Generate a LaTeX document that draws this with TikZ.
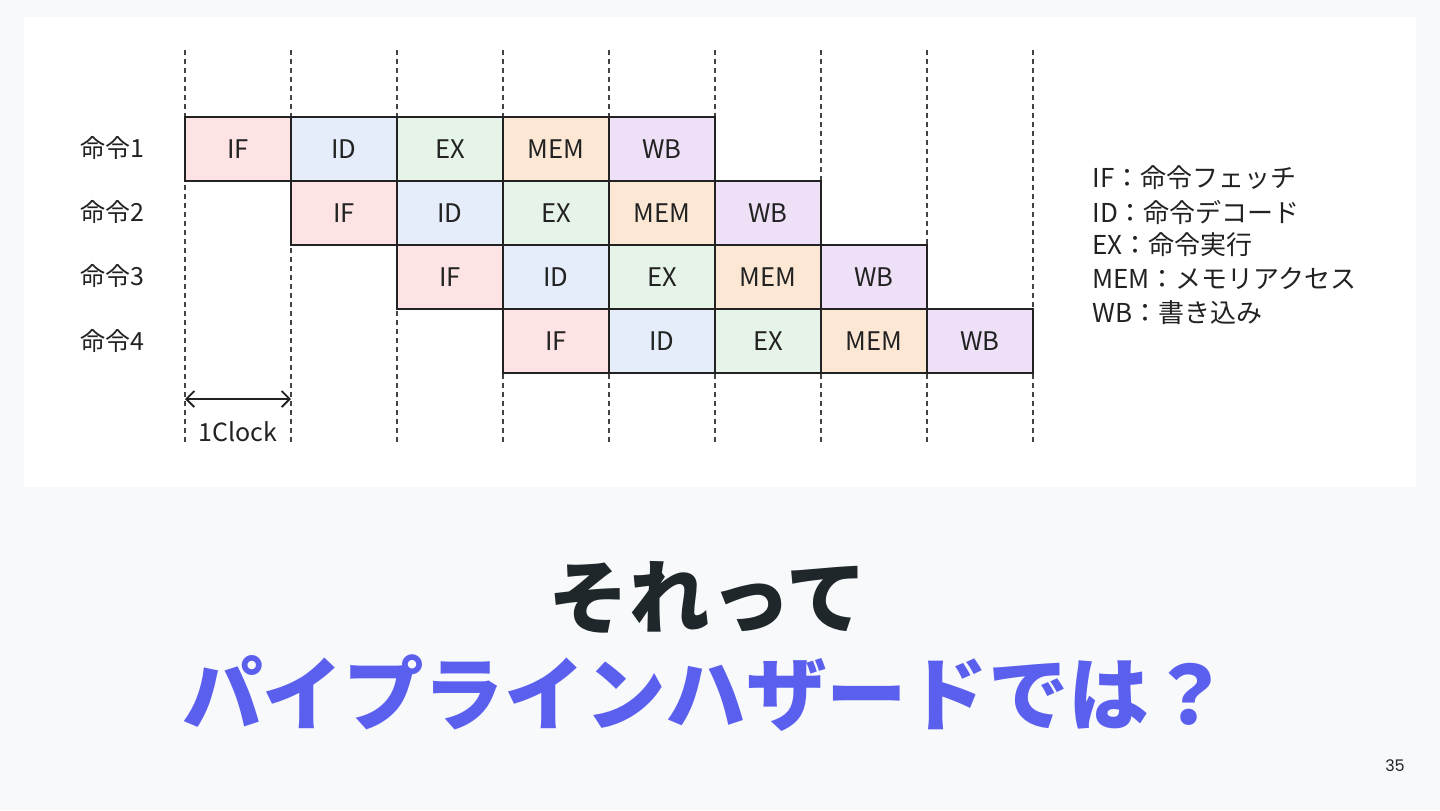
\documentclass[tikz,border=0pt]{standalone}
\usepackage{fontspec}
\setmainfont{Noto Sans CJK JP}
\newfontfamily\numfont{Poppins}
\usetikzlibrary{arrows.meta}
\definecolor{bgc}{HTML}{F7F9FB}
\definecolor{cIF}{HTML}{FDE3E4}
\definecolor{cID}{HTML}{E5EDFB}
\definecolor{cEX}{HTML}{E5F3E8}
\definecolor{cMEM}{HTML}{FCE7D4}
\definecolor{cWB}{HTML}{EDE0F7}
\definecolor{ttl}{HTML}{1F272B}
\definecolor{acc}{HTML}{5B5FEE}
\definecolor{ink}{HTML}{222222}
\tikzset{
  stagebox/.style={draw=ink, line width=0.6pt, minimum width=53pt, minimum height=32pt, inner sep=0pt, font=\fontsize{12.8}{14}\selectfont, text=ink},
  gridline/.style={draw=ink!85, line width=0.6pt, dash pattern=on 2.5pt off 2pt},
  rowlabel/.style={font=\fontsize{12.5}{14}\selectfont, text=ink},
  legend/.style={anchor=west, font=\fontsize{13}{15}\selectfont, text=ink, inner sep=0pt},
}
\begin{document}
\begin{tikzpicture}[x=0.5pt, y=-0.5pt]
\fill[bgc] (0,0) rectangle (1440,810);
\useasboundingbox (0,0) rectangle (1440,810);
\fill[white] (24,17) rectangle (1416,487);
% grid lines
\foreach \k in {0,...,8} {
  \coordinate (gt\k) at (185+106*\k, 50);
  \coordinate (gb\k) at (185+106*\k, 442);
  \draw[gridline] (gt\k) -- (gb\k);
}
% stage boxes
\foreach \i in {0,...,3} {
  \foreach \j/\s in {0/IF,1/ID,2/EX,3/MEM,4/WB} {
    \pgfmathtruncatemacro{\c}{\i+\j}
    \node[stagebox, fill=c\s] (b\i\j) at (238+106*\c, 149+64*\i) {\s};
  }
}
% row labels
\node[rowlabel] (r1) at (112,148) {命令1};
\node[rowlabel] (r2) at (112,212) {命令2};
\node[rowlabel] (r3) at (112,276) {命令3};
\node[rowlabel] (r4) at (112,341) {命令4};
% clock
\coordinate (ca) at (185,399);
\coordinate (cb) at (291,399);
\draw[ink, line width=0.9pt, {Straight Barb[length=4pt,width=8pt]}-{Straight Barb[length=4pt,width=8pt]}] (ca) -- (cb);
\node[font=\fontsize{12.5}{14}\selectfont, text=ink] (clk) at (238,432) {1Clock};
% legend
\node[legend] (l1) at (1092,178) {IF：命令フェッチ};
\node[legend] (l2) at (1092,212) {ID：命令デコード};
\node[legend] (l3) at (1092,245) {EX：命令実行};
\node[legend] (l4) at (1092,279) {MEM：メモリアクセス};
\node[legend] (l5) at (1092,313) {WB：書き込み};
% titles
\node[font=\fontsize{40.3}{44}\bfseries\selectfont, text=ttl] (t1) at (708,598) {それって};
\node[font=\fontsize{40.3}{44}\bfseries\selectfont, text=acc] (t2) at (706,693) {パイプラインハザードでは？};
\node[font={\numfont\fontsize{8}{10}\selectfont}, text=ink] (pg) at (1395,766) {35};
\end{tikzpicture}
\end{document}
